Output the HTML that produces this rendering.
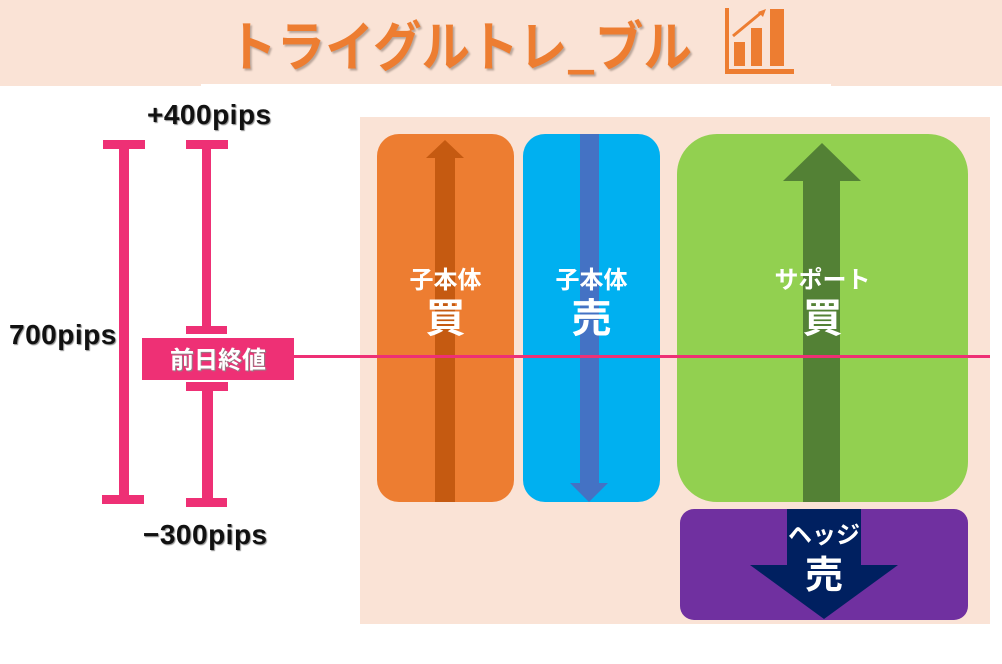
<!DOCTYPE html>
<html><head><meta charset="utf-8"><style>
body{margin:0;width:1002px;height:664px;background:#fff;position:relative;overflow:hidden;font-family:"Liberation Sans","Noto Sans CJK JP",sans-serif}
div{position:absolute;box-sizing:border-box}
.p{background:#ee3075}
.t{font-weight:bold;color:#111;font-size:28px;letter-spacing:0.5px;white-space:nowrap;text-shadow:1px 1px 1px #888}
.w{color:#fff;font-weight:bold;text-align:center;white-space:nowrap;font-family:"Noto Sans CJK JP",sans-serif}
</style></head><body>
<div style="left:0;top:0;width:1002px;height:86px;background:#fae3d6"></div>
<div style="left:201px;top:84px;width:630px;height:2px;background:#fff"></div>
<div style="left:228px;top:8px;width:560px;height:70px;font-size:54px;font-weight:bold;color:#ed7d31;font-family:'Noto Sans CJK JP',sans-serif;text-shadow:2px 2px 2px #b9a59a;white-space:nowrap;line-height:70px;transform:scaleX(0.9);transform-origin:0 0">トライグルトレ_ブル</div>
<svg style="position:absolute;left:722px;top:6px" width="76" height="72">
<rect x="3" y="2" width="4" height="66" fill="#ed7d31"/><rect x="3" y="63" width="69" height="5" fill="#ed7d31"/>
<rect x="12" y="36" width="11" height="24" fill="#ed7d31"/><rect x="29" y="22" width="11" height="38" fill="#ed7d31"/><rect x="48" y="3" width="14" height="57" fill="#ed7d31"/>
<line x1="11" y1="30" x2="40" y2="6" stroke="#ed7d31" stroke-width="3"/><polygon points="44,3 36,6 41,11" fill="#ed7d31"/></svg>

<div style="left:360px;top:117px;width:630px;height:507px;background:#fae3d6"></div>
<div style="left:377px;top:134px;width:137px;height:368px;background:#ed7d31;border-radius:22px"></div>
<div style="left:435px;top:158px;width:20px;height:344px;background:#c55a11"></div>
<svg style="position:absolute;left:426px;top:140px" width="38" height="18"><polygon points="19,0 38,18 0,18" fill="#c55a11"/></svg>
<div style="left:523px;top:134px;width:137px;height:368px;background:#00b0f0;border-radius:22px"></div>
<div style="left:580px;top:134px;width:19px;height:350px;background:#4472c4"></div>
<svg style="position:absolute;left:570px;top:483px" width="38" height="19"><polygon points="0,0 38,0 19,19" fill="#4472c4"/></svg>
<div style="left:677px;top:134px;width:291px;height:368px;background:#92d050;border-radius:40px"></div>
<div style="left:803px;top:180px;width:37px;height:322px;background:#538135"></div>
<svg style="position:absolute;left:783px;top:143px" width="78" height="38"><polygon points="39,0 78,38 0,38" fill="#538135"/></svg>
<div style="left:680px;top:509px;width:288px;height:111px;background:#7030a0;border-radius:14px"></div>
<svg style="position:absolute;left:750px;top:509px" width="148" height="111"><polygon points="37,0 111,0 111,56 148,56 74,110 0,56 37,56" fill="#002060"/></svg>

<div class="w" style="left:377px;top:260px;width:137px;font-size:24px">子本体</div>
<div class="w" style="left:377px;top:290px;width:137px;font-size:40px;line-height:50px">買</div>
<div class="w" style="left:523px;top:260px;width:137px;font-size:24px">子本体</div>
<div class="w" style="left:523px;top:290px;width:137px;font-size:40px;line-height:50px">売</div>
<div class="w" style="left:677px;top:260px;width:291px;font-size:24px">サポート</div>
<div class="w" style="left:677px;top:290px;width:291px;font-size:40px;line-height:50px">買</div>
<div class="w" style="left:680px;top:515px;width:288px;font-size:24px">ヘッジ</div>
<div class="w" style="left:680px;top:548px;width:288px;font-size:38px;line-height:48px">売</div>

<div style="left:294px;top:355px;width:696px;height:3px;background:#ee3075"></div>
<div class="p" style="left:119px;top:140px;width:10px;height:364px"></div>
<div class="p" style="left:103px;top:140px;width:42px;height:9px"></div>
<div class="p" style="left:102px;top:495px;width:42px;height:9px"></div>
<div class="p" style="left:202px;top:140px;width:9px;height:194px"></div>
<div class="p" style="left:186px;top:140px;width:42px;height:9px"></div>
<div class="p" style="left:186px;top:326px;width:41px;height:8px"></div>
<div class="p" style="left:202px;top:382px;width:11px;height:125px"></div>
<div class="p" style="left:186px;top:382px;width:42px;height:9px"></div>
<div class="p" style="left:186px;top:498px;width:41px;height:9px"></div>
<div class="p w" style="left:142px;top:338px;width:152px;height:42px;font-size:24px;line-height:40px;text-shadow:1px 1px 1px #888">前日終値</div>
<div class="t" style="left:147px;top:99px">+400pips</div>
<div class="t" style="left:9px;top:319px">700pips</div>
<div class="t" style="left:143px;top:519px">−300pips</div>
</body></html>
